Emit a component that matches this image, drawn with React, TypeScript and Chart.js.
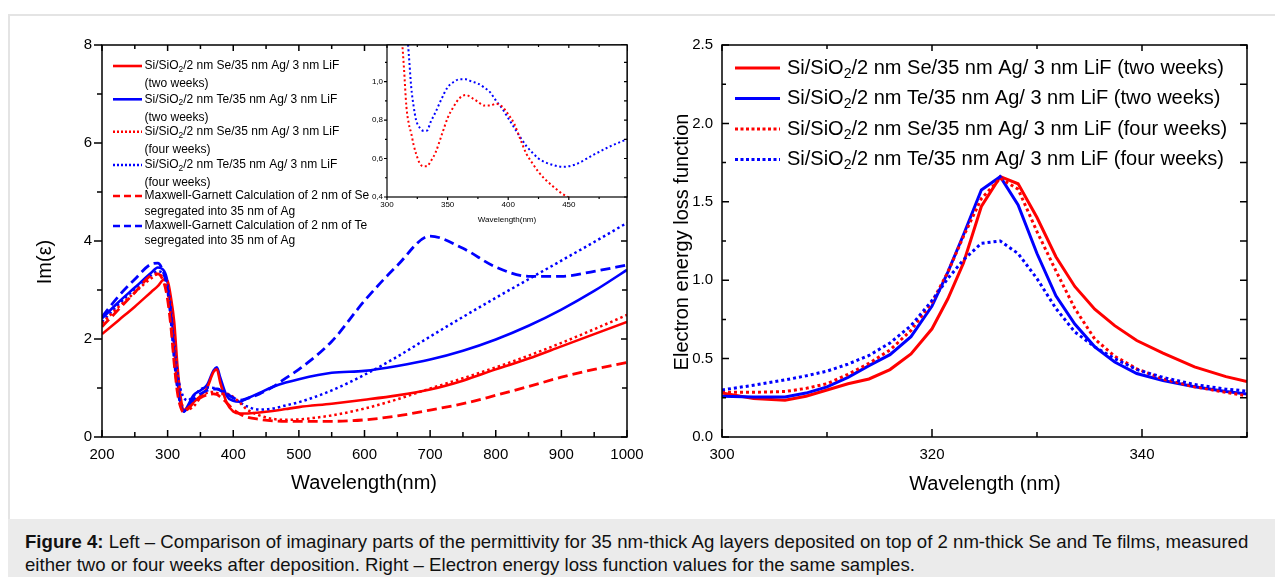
import React, { useEffect, useRef } from 'react';
import { Chart, registerables } from 'chart.js';

Chart.register(...registerables);

const FONT = '"Liberation Sans", Arial, Helvetica, sans-serif';
const RED = '#ff0000';
const BLUE = '#0000ff';

// ---------------- Left panel: Im(eps) vs wavelength ----------------
const wavelengths = [200, 225, 250, 275, 285, 295, 300, 305, 310, 315, 320, 325, 330, 340, 350, 360, 370, 375, 380, 390, 400, 410, 420, 440, 460, 480, 500, 550, 600, 650, 700, 750, 800, 850, 900, 950, 1000];
const seTwoWeeks = [2.10, 2.38, 2.66, 2.96, 3.08, 3.22, 3.18, 2.85, 2.35, 1.45, 0.80, 0.55, 0.58, 0.72, 0.84, 1.00, 1.33, 1.38, 1.12, 0.70, 0.52, 0.48, 0.48, 0.50, 0.53, 0.57, 0.61, 0.68, 0.76, 0.85, 0.97, 1.15, 1.38, 1.60, 1.85, 2.10, 2.35];
const teTwoWeeks = [2.42, 2.75, 3.05, 3.35, 3.46, 3.38, 3.15, 2.60, 1.90, 1.15, 0.68, 0.52, 0.62, 0.86, 0.95, 1.06, 1.36, 1.42, 1.22, 0.84, 0.74, 0.72, 0.78, 0.90, 1.02, 1.11, 1.18, 1.31, 1.35, 1.45, 1.58, 1.76, 1.99, 2.27, 2.60, 2.98, 3.41];
const seFourWeeks = [2.32, 2.65, 2.95, 3.24, 3.32, 3.20, 2.95, 2.45, 1.75, 1.00, 0.72, 0.60, 0.56, 0.63, 0.80, 0.90, 0.92, 0.90, 0.875, 0.885, 0.82, 0.70, 0.57, 0.44, 0.37, 0.35, 0.36, 0.44, 0.58, 0.77, 0.99, 1.20, 1.42, 1.66, 1.92, 2.20, 2.49];
const teFourWeeks = [2.35, 2.70, 3.02, 3.30, 3.38, 3.30, 3.10, 2.60, 1.90, 1.30, 0.96, 0.80, 0.745, 0.84, 0.97, 1.01, 1.00, 0.99, 0.97, 0.89, 0.80, 0.71, 0.63, 0.56, 0.58, 0.645, 0.71, 0.95, 1.27, 1.64, 2.05, 2.45, 2.84, 3.22, 3.60, 3.98, 4.37];
const mgSe = [2.25, 2.60, 2.95, 3.30, 3.33, 3.12, 2.80, 2.25, 1.50, 0.90, 0.60, 0.50, 0.56, 0.70, 0.80, 0.86, 0.88, 0.87, 0.82, 0.70, 0.56, 0.47, 0.41, 0.36, 0.33, 0.32, 0.32, 0.32, 0.35, 0.43, 0.55, 0.68, 0.85, 1.03, 1.22, 1.38, 1.52];
const mgTe = [2.45, 2.87, 3.22, 3.53, 3.55, 3.30, 3.00, 2.40, 1.60, 1.00, 0.65, 0.52, 0.60, 0.78, 0.88, 0.95, 0.98, 0.98, 0.95, 0.88, 0.80, 0.75, 0.78, 0.88, 1.02, 1.20, 1.38, 1.95, 2.78, 3.50, 4.10, 3.85, 3.47, 3.28, 3.28, 3.38, 3.51];
const leftXTicks = [200, 300, 400, 500, 600, 700, 800, 900, 1000];
const leftXMinor = [250, 350, 450, 550, 650, 750, 850, 950];
const leftYTicks = [0, 2, 4, 6, 8];
const leftYMinor = [1, 3, 5, 7];

// ---------------- Inset (four weeks, zoomed) ----------------
const insetWavelengths = [312, 314, 316, 318, 320, 322, 324, 327, 330, 333, 336, 340, 345, 350, 355, 360, 365, 370, 375, 380, 385, 390, 395, 400, 405, 410, 415, 420, 425, 430, 437, 445, 455, 470, 485, 498];
const insetSeFourWeeks = [1.25, 1.07, 0.87, 0.78, 0.73, 0.67, 0.625, 0.575, 0.56, 0.56, 0.585, 0.63, 0.72, 0.81, 0.87, 0.915, 0.93, 0.915, 0.895, 0.875, 0.875, 0.885, 0.87, 0.83, 0.78, 0.70, 0.625, 0.575, 0.53, 0.495, 0.455, 0.415, 0.385, 0.36, 0.35, 0.355];
const insetTeFourWeeks = [1.62, 1.46, 1.30, 1.14, 0.97, 0.87, 0.80, 0.76, 0.744, 0.745, 0.79, 0.84, 0.91, 0.97, 0.998, 1.012, 1.012, 1.0, 0.99, 0.97, 0.945, 0.90, 0.86, 0.81, 0.76, 0.71, 0.665, 0.63, 0.60, 0.582, 0.566, 0.557, 0.568, 0.618, 0.666, 0.70];
const insetXTicks = [300, 350, 400, 450];
const insetXMinor = [325, 375, 425, 475];
const insetYTicks = [0.4, 0.6, 0.8, 1.0];
const insetYMinor = [0.5, 0.7, 0.9, 1.1];

// ---------------- Right panel: electron energy loss function ----------------
const eelsWavelengths = [300, 303, 306, 308, 310, 312, 314, 316, 318, 320, 321.5, 323, 324.7, 326.5, 328.2, 330, 331.8, 333.6, 335.5, 337.4, 339.5, 342, 345, 348, 350];
const eelsSeTwoWeeks = [0.28, 0.245, 0.235, 0.26, 0.30, 0.34, 0.37, 0.43, 0.53, 0.69, 0.88, 1.11, 1.47, 1.66, 1.615, 1.40, 1.15, 0.96, 0.815, 0.71, 0.615, 0.535, 0.447, 0.385, 0.353];
const eelsTeTwoWeeks = [0.26, 0.255, 0.255, 0.28, 0.32, 0.38, 0.455, 0.525, 0.64, 0.835, 1.05, 1.29, 1.575, 1.66, 1.48, 1.17, 0.90, 0.72, 0.575, 0.478, 0.405, 0.36, 0.32, 0.29, 0.274];
const eelsSeFourWeeks = [0.285, 0.285, 0.29, 0.31, 0.34, 0.40, 0.47, 0.555, 0.68, 0.86, 1.05, 1.28, 1.52, 1.65, 1.58, 1.31, 1.06, 0.82, 0.625, 0.515, 0.435, 0.37, 0.32, 0.285, 0.262];
const eelsTeFourWeeks = [0.30, 0.33, 0.364, 0.39, 0.42, 0.465, 0.52, 0.60, 0.71, 0.87, 1.01, 1.13, 1.235, 1.25, 1.17, 1.01, 0.82, 0.67, 0.575, 0.50, 0.43, 0.38, 0.335, 0.305, 0.293];
const rightXTicks = [300, 320, 340];
const rightXMinor = [310, 330, 350];
const rightYTicks = [0, 0.5, 1.0, 1.5, 2.0, 2.5];
const rightYMinor = [0.25, 0.75, 1.25, 1.75, 2.25];

// ---------------- Legend texts ----------------
type Seg = { t: string; sub?: boolean };
const sample = (el: string): Seg[] => [{ t: 'Si/SiO' }, { t: '2', sub: true }, { t: `/2 nm ${el}/35 nm Ag/ 3 nm LiF` }];
const leftLegend: { color: string; dash: number[]; lines: Seg[][] }[] = [
  { color: RED, dash: [], lines: [sample('Se'), [{ t: '(two weeks)' }]] },
  { color: BLUE, dash: [], lines: [sample('Te'), [{ t: '(two weeks)' }]] },
  { color: RED, dash: [2, 2], lines: [sample('Se'), [{ t: '(four weeks)' }]] },
  { color: BLUE, dash: [2, 2], lines: [sample('Te'), [{ t: '(four weeks)' }]] },
  { color: RED, dash: [7, 4], lines: [[{ t: 'Maxwell-Garnett Calculation of 2 nm of Se' }], [{ t: 'segregated into 35 nm of Ag' }]] },
  { color: BLUE, dash: [7, 4], lines: [[{ t: 'Maxwell-Garnett Calculation of 2 nm of Te' }], [{ t: 'segregated into 35 nm of Ag' }]] },
];
const leftLegendY = [66, 99.3, 131.7, 165, 196, 226];
const leftLegendY2 = [84, 117.3, 149.3, 182.7, 211.7, 240.7];
const rightLegend: { color: string; dash: number[]; segs: Seg[] }[] = [
  { color: RED, dash: [], segs: [...sample('Se'), { t: ' (two weeks)' }] },
  { color: BLUE, dash: [], segs: [...sample('Te'), { t: ' (two weeks)' }] },
  { color: RED, dash: [3, 2.5], segs: [...sample('Se'), { t: ' (four weeks)' }] },
  { color: BLUE, dash: [3, 2.5], segs: [...sample('Te'), { t: ' (four weeks)' }] },
];
const rightLegendY = [68, 98.5, 129, 159.5];

// ---------------- helpers ----------------
function drawRich(ctx: CanvasRenderingContext2D, segs: Seg[], x: number, y: number, size: number) {
  let cx = x;
  ctx.textAlign = 'left';
  ctx.textBaseline = 'middle';
  for (const s of segs) {
    if (s.sub) {
      ctx.font = `${size * 0.7}px ${FONT}`;
      ctx.fillText(s.t, cx, y + size * 0.3);
    } else {
      ctx.font = `${size}px ${FONT}`;
      ctx.fillText(s.t, cx, y);
    }
    cx += ctx.measureText(s.t).width;
  }
}

type SideTicks = { major: number[]; minor: number[]; out: boolean; majorLen: number; minorLen: number };
function framePlugin(id: string, lw: number, sides: { bottom: SideTicks; top: SideTicks; left: SideTicks; right: SideTicks }) {
  return {
    id,
    afterDatasetsDraw(chart: any) {
      const { ctx, chartArea: a, scales } = chart;
      const xs = scales.x;
      const ys = scales.y;
      ctx.save();
      ctx.strokeStyle = '#000';
      ctx.lineWidth = lw;
      ctx.beginPath();
      const hor = (s: SideTicks, y0: number, outSign: number) => {
        ([[s.major, s.majorLen], [s.minor, s.minorLen]] as [number[], number][]).forEach(([vals, len]) => {
          vals.forEach((v) => {
            const p = xs.getPixelForValue(v);
            ctx.moveTo(p, y0);
            ctx.lineTo(p, y0 + (s.out ? 1 : -1) * outSign * len);
          });
        });
      };
      const ver = (s: SideTicks, x0: number, outSign: number) => {
        ([[s.major, s.majorLen], [s.minor, s.minorLen]] as [number[], number][]).forEach(([vals, len]) => {
          vals.forEach((v) => {
            const p = ys.getPixelForValue(v);
            ctx.moveTo(x0, p);
            ctx.lineTo(x0 + (s.out ? 1 : -1) * outSign * len, p);
          });
        });
      };
      hor(sides.bottom, a.bottom, 1);
      hor(sides.top, a.top, -1);
      ver(sides.left, a.left, -1);
      ver(sides.right, a.right, 1);
      ctx.stroke();
      ctx.strokeRect(a.left, a.top, a.right - a.left, a.bottom - a.top);
      ctx.restore();
    },
  };
}

function textPlugin(id: string, items: { text: string; x: number; y: number; size: number; rotate?: boolean }[]) {
  return {
    id,
    afterDraw(chart: any) {
      const ctx: CanvasRenderingContext2D = chart.ctx;
      ctx.save();
      ctx.fillStyle = '#000';
      items.forEach((it) => {
        ctx.save();
        ctx.translate(it.x, it.y);
        if (it.rotate) ctx.rotate(-Math.PI / 2);
        ctx.font = `${it.size}px ${FONT}`;
        ctx.textAlign = 'center';
        ctx.textBaseline = 'middle';
        ctx.fillText(it.text, 0, 0);
        ctx.restore();
      });
      ctx.restore();
    },
  };
}

const tickFont = (size: number) => ({ family: FONT, size });
const plainLabel = (v: any) => String(v);
const fixedTicks = (vals: number[]) => (s: any) => {
  s.ticks = vals.map((v) => ({ value: v }));
};
const ds = (xs: number[], ys: number[], color: string, width: number, dash: number[], smooth: boolean) => ({
  data: xs.map((x, i) => ({ x, y: ys[i] })),
  borderColor: color,
  backgroundColor: color,
  borderWidth: width,
  borderDash: dash,
  pointRadius: 0,
  fill: false,
  tension: 0,
  cubicInterpolationMode: smooth ? ('monotone' as const) : ('default' as const),
});

function makeLeft(canvas: HTMLCanvasElement) {
  const legend = {
    id: 'leftLegend',
    afterDatasetsDraw(chart: any) {
      const ctx: CanvasRenderingContext2D = chart.ctx;
      ctx.save();
      leftLegend.forEach((it, i) => {
        ctx.strokeStyle = it.color;
        ctx.lineWidth = 2.6;
        ctx.setLineDash(it.dash);
        ctx.beginPath();
        ctx.moveTo(113, leftLegendY[i]);
        ctx.lineTo(142, leftLegendY[i]);
        ctx.stroke();
        ctx.setLineDash([]);
        ctx.fillStyle = '#000';
        drawRich(ctx, it.lines[0], 144.5, leftLegendY[i], 12);
        drawRich(ctx, it.lines[1], 144.5, leftLegendY2[i], 12);
      });
      ctx.restore();
    },
  };
  return new Chart(canvas, {
    type: 'line',
    data: {
      datasets: [
        ds(wavelengths, mgSe, RED, 2.8, [10, 5], true),
        ds(wavelengths, mgTe, BLUE, 2.8, [10, 5], true),
        ds(wavelengths, seFourWeeks, RED, 2.5, [2.5, 3], true),
        ds(wavelengths, teFourWeeks, BLUE, 2.5, [2.5, 3], true),
        ds(wavelengths, seTwoWeeks, RED, 2.6, [], true),
        ds(wavelengths, teTwoWeeks, BLUE, 2.6, [], true),
      ] as any,
    },
    options: {
      responsive: false,
      animation: false,
      devicePixelRatio: 1,
      layout: { padding: { left: 0, top: 45, right: 33, bottom: 0 } },
      plugins: { legend: { display: false }, tooltip: { enabled: false } },
      scales: {
        x: {
          type: 'linear',
          min: 200,
          max: 1000,
          grid: { display: false, drawTicks: false },
          border: { display: false },
          afterBuildTicks: fixedTicks(leftXTicks),
          afterFit: (s: any) => { s.height = 78; },
          ticks: { font: tickFont(15), color: '#000', padding: 9, maxRotation: 0, autoSkip: false, callback: plainLabel },
        },
        y: {
          type: 'linear',
          min: 0,
          max: 8,
          grid: { display: false, drawTicks: false },
          border: { display: false },
          afterBuildTicks: fixedTicks(leftYTicks),
          afterFit: (s: any) => { s.width = 102; },
          ticks: { font: tickFont(15), color: '#000', padding: 10, callback: plainLabel },
        },
      },
    },
    plugins: [
      framePlugin('leftFrame', 1.5, {
        bottom: { major: leftXTicks, minor: leftXMinor, out: false, majorLen: 7, minorLen: 5 },
        top: { major: leftXTicks, minor: leftXMinor, out: false, majorLen: 6, minorLen: 4 },
        left: { major: leftYTicks, minor: leftYMinor, out: true, majorLen: 8, minorLen: 5 },
        right: { major: leftYTicks, minor: leftYMinor, out: false, majorLen: 6, minorLen: 5 },
      }),
      legend,
      textPlugin('leftTitles', [
        { text: 'Wavelength(nm)', x: 364, y: 483, size: 20 },
        { text: 'Im(ε)', x: 45, y: 262, size: 20, rotate: true },
      ]),
    ] as any,
  });
}

function makeInset(canvas: HTMLCanvasElement) {
  const bg = {
    id: 'insetBg',
    beforeDraw(chart: any) {
      const { ctx, chartArea: a } = chart;
      ctx.save();
      ctx.fillStyle = '#fff';
      ctx.fillRect(a.left, a.top, a.right - a.left, a.bottom - a.top);
      ctx.restore();
    },
  };
  return new Chart(canvas, {
    type: 'line',
    data: {
      datasets: [
        ds(insetWavelengths, insetSeFourWeeks, RED, 2, [2, 2.6], true),
        ds(insetWavelengths, insetTeFourWeeks, BLUE, 2, [2, 2.6], true),
      ] as any,
    },
    options: {
      responsive: false,
      animation: false,
      devicePixelRatio: 1,
      layout: { padding: { left: 0, top: 15, right: 13, bottom: 0 } },
      plugins: { legend: { display: false }, tooltip: { enabled: false } },
      scales: {
        x: {
          type: 'linear',
          min: 300,
          max: 498,
          grid: { display: false, drawTicks: false },
          border: { display: false },
          afterBuildTicks: fixedTicks(insetXTicks),
          afterFit: (s: any) => { s.height = 33; },
          ticks: { font: tickFont(8), color: '#000', padding: 3, maxRotation: 0, autoSkip: false, callback: plainLabel },
        },
        y: {
          type: 'linear',
          min: 0.4,
          max: 1.19,
          grid: { display: false, drawTicks: false },
          border: { display: false },
          afterBuildTicks: fixedTicks(insetYTicks),
          afterFit: (s: any) => { s.width = 47; },
          ticks: {
            font: tickFont(8),
            color: '#000',
            padding: 4,
            callback: (v: any) => Number(v).toFixed(1).replace('.', ','),
          },
        },
      },
    },
    plugins: [
      bg,
      framePlugin('insetFrame', 1.2, {
        bottom: { major: insetXTicks, minor: insetXMinor, out: true, majorLen: 3, minorLen: 2 },
        top: { major: insetXTicks, minor: insetXMinor, out: false, majorLen: 3, minorLen: 2 },
        left: { major: insetYTicks, minor: insetYMinor, out: true, majorLen: 3, minorLen: 2 },
        right: { major: insetYTicks, minor: insetYMinor, out: false, majorLen: 3, minorLen: 3 },
      }),
      textPlugin('insetTitles', [{ text: 'Wavelength(nm)', x: 167, y: 190, size: 8 }]),
    ] as any,
  });
}

function makeRight(canvas: HTMLCanvasElement) {
  const legend = {
    id: 'rightLegend',
    afterDatasetsDraw(chart: any) {
      const ctx: CanvasRenderingContext2D = chart.ctx;
      ctx.save();
      rightLegend.forEach((it, i) => {
        ctx.strokeStyle = it.color;
        ctx.lineWidth = 3;
        ctx.setLineDash(it.dash);
        ctx.beginPath();
        ctx.moveTo(75, rightLegendY[i]);
        ctx.lineTo(120, rightLegendY[i]);
        ctx.stroke();
        ctx.setLineDash([]);
        ctx.fillStyle = '#000';
        drawRich(ctx, it.segs, 127, rightLegendY[i], 20);
      });
      ctx.restore();
    },
  };
  return new Chart(canvas, {
    type: 'line',
    data: {
      datasets: [
        ds(eelsWavelengths, eelsTeFourWeeks, BLUE, 3, [3, 3], false),
        ds(eelsWavelengths, eelsSeFourWeeks, RED, 3, [3, 3], false),
        ds(eelsWavelengths, eelsTeTwoWeeks, BLUE, 3, [], false),
        ds(eelsWavelengths, eelsSeTwoWeeks, RED, 3, [], false),
      ] as any,
    },
    options: {
      responsive: false,
      animation: false,
      devicePixelRatio: 1,
      layout: { padding: { left: 0, top: 45, right: 28, bottom: 0 } },
      plugins: { legend: { display: false }, tooltip: { enabled: false } },
      scales: {
        x: {
          type: 'linear',
          min: 300,
          max: 350,
          grid: { display: false, drawTicks: false },
          border: { display: false },
          afterBuildTicks: fixedTicks(rightXTicks),
          afterFit: (s: any) => { s.height = 78; },
          ticks: { font: tickFont(15), color: '#000', padding: 9, maxRotation: 0, autoSkip: false, callback: plainLabel },
        },
        y: {
          type: 'linear',
          min: 0,
          max: 2.5,
          grid: { display: false, drawTicks: false },
          border: { display: false },
          afterBuildTicks: fixedTicks(rightYTicks),
          afterFit: (s: any) => { s.width = 62; },
          ticks: { font: tickFont(15), color: '#000', padding: 9, callback: (v: any) => Number(v).toFixed(1) },
        },
      },
    },
    plugins: [
      framePlugin('rightFrame', 1.5, {
        bottom: { major: rightXTicks, minor: rightXMinor, out: false, majorLen: 8, minorLen: 5 },
        top: { major: rightXTicks, minor: rightXMinor, out: false, majorLen: 6, minorLen: 4 },
        left: { major: rightYTicks, minor: rightYMinor, out: false, majorLen: 7, minorLen: 4 },
        right: { major: rightYTicks, minor: rightYMinor, out: false, majorLen: 7, minorLen: 7 },
      }),
      legend,
      textPlugin('rightTitles', [
        { text: 'Wavelength (nm)', x: 325, y: 484, size: 20 },
        { text: 'Electron energy loss function', x: 22, y: 242, size: 20, rotate: true },
      ]),
    ] as any,
  });
}

export default function App() {
  const leftRef = useRef<HTMLCanvasElement>(null);
  const insetRef = useRef<HTMLCanvasElement>(null);
  const rightRef = useRef<HTMLCanvasElement>(null);

  useEffect(() => {
    document.body.style.overflow = 'hidden';
    const charts = [makeLeft(leftRef.current!), makeInset(insetRef.current!), makeRight(rightRef.current!)];
    return () => charts.forEach((c) => c.destroy());
  }, []);

  return (
    <div style={{ position: 'fixed', left: 0, top: 0, width: 1275, height: 577, background: '#fff', overflow: 'hidden', fontFamily: FONT }}>
      <div style={{ position: 'absolute', left: 8, top: 14, right: 0, bottom: 0, borderLeft: '2px solid #e4e4e4', borderTop: '2px solid #e4e4e4' }} />
      <canvas ref={leftRef} width={660} height={515} style={{ position: 'absolute', left: 0, top: 0, width: 660, height: 515 }} />
      <canvas ref={rightRef} width={615} height={515} style={{ position: 'absolute', left: 660, top: 0, width: 615, height: 515 }} />
      <canvas ref={insetRef} width={300} height={200} style={{ position: 'absolute', left: 340, top: 30, width: 300, height: 200 }} />
      <div style={{ position: 'absolute', left: 8, top: 519, right: 0, bottom: 0, background: '#ebebeb' }} />
      <div style={{ position: 'absolute', left: 25, top: 530, fontSize: 18.6, lineHeight: '23px', color: '#111', whiteSpace: 'nowrap' }}>
        <b>Figure 4:</b> Left – Comparison of imaginary parts of the permittivity for 35 nm-thick Ag layers deposited on top of 2 nm-thick Se and Te films, measured
        <br />
        either two or four weeks after deposition. Right – Electron energy loss function values for the same samples.
      </div>
    </div>
  );
}
